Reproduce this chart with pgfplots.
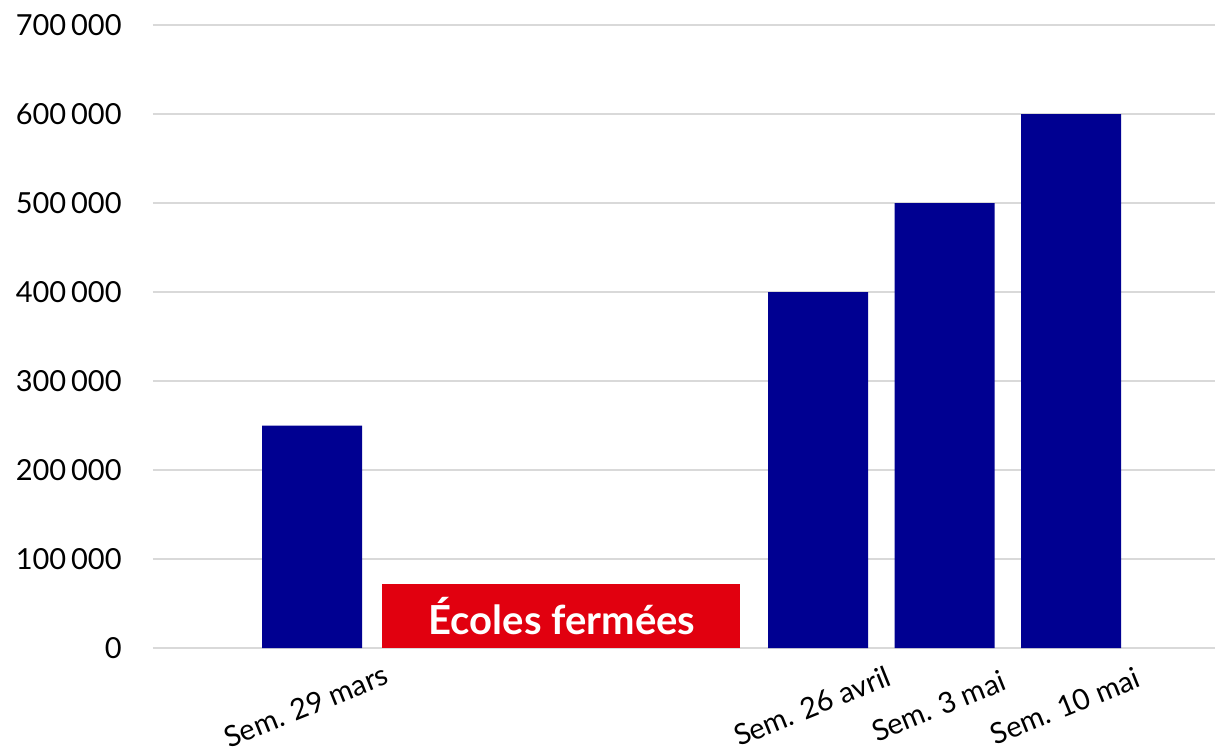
\documentclass[border=0pt]{standalone}
\usepackage{pgfplots}
\pgfplotsset{compat=1.18}
\usepackage{fontspec}
\setmainfont{Lato}
\definecolor{bleu}{HTML}{000091}
\definecolor{rouge}{HTML}{E1000F}
\definecolor{grille}{HTML}{D9D9D9}
\begin{document}
\begin{tikzpicture}
\begin{axis}[
  at={(0,0)}, anchor=south west,
  scale only axis, width=531pt, height=311.5pt,
  xmin=-1.257, xmax=7.138, ymin=0, ymax=700000,
  axis line style={draw=none},
  ymajorgrids, grid style={grille, line width=1pt},
  ytick={0,100000,200000,300000,400000,500000,600000,700000},
  yticklabels={0, 100\,000, 200\,000, 300\,000, 400\,000, 500\,000, 600\,000, 700\,000},
  xtick={0,4,5,6},
  xticklabels={Sem. 29 mars, Sem. 26 avril, Sem. 3 mai, Sem. 10 mai},
  major tick length=0pt,
  scaled y ticks=false,
  yticklabel style={font=\fontsize{14.5}{17}\selectfont, anchor=east, inner sep=0pt, xshift=-15.5pt},
  xticklabel style={font=\fontsize{14.5}{17}\selectfont, inner sep=0pt, anchor=center, yshift=-29pt, xshift=-3pt, rotate=22},
  clip=false,
]
\addplot[ybar, bar width=50pt, bar shift=0pt, fill=bleu, draw=none]
  coordinates {(0,250000) (4,400000) (5,500000) (6,600000)};
\addplot[ybar, bar width=179pt, bar shift=0pt, fill=rouge, draw=none]
  coordinates {(1.968,72000)};
\node[font=\fontsize{20}{24}\selectfont\bfseries, text=white] at (axis cs:1.976,36000) {Écoles fermées};
\end{axis}
\pgfresetboundingbox
\path[use as bounding box] (-76.5pt,-51.5pt) rectangle (531pt,324pt);
\end{tikzpicture}
\end{document}
